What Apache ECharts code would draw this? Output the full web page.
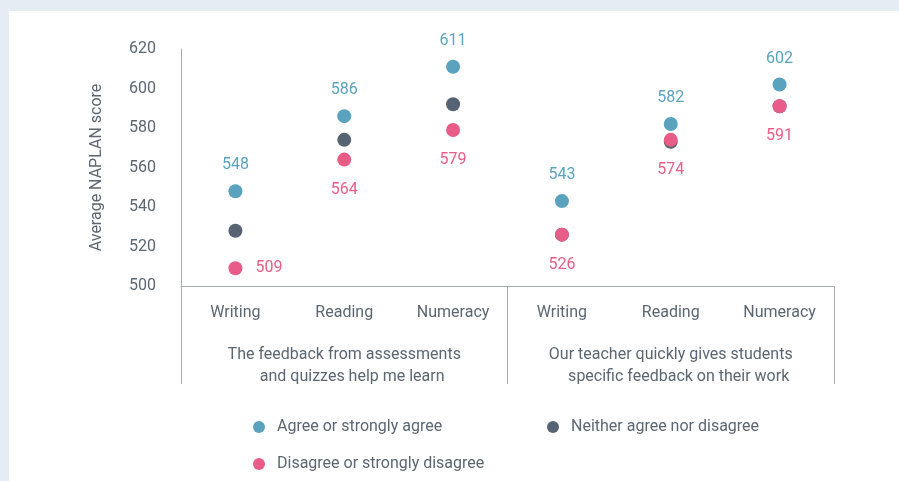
<!DOCTYPE html>
<html>
<head>
<meta charset="utf-8">
<title>Average NAPLAN score by feedback perception</title>
<script src="https://cdn.jsdelivr.net/npm/echarts@6/dist/echarts.min.js"></script>
<style>
  html, body { margin: 0; padding: 0; background: #e6ecf3; }
  #chart { width: 899px; height: 481px; }
</style>
</head>
<body>
<div id="chart"></div>
<script>
// subjects along the x axis, repeated for each survey statement
var subjects = ["Writing", "Reading", "Numeracy", "Writing", "Reading", "Numeracy"];
var statements = [
  "The feedback from assessments\n    and quizzes help me learn",
  "Our teacher quickly gives students\n    specific feedback on their work"
];
var seriesNames = ["Agree or strongly agree", "Neither agree nor disagree", "Disagree or strongly disagree"];
var agreeScores = [548, 586, 611, 543, 582, 602];
var neitherScores = [528, 574, 592, 526, 573, 591];
var disagreeScores = [509, 564, 579, 526, 574, 591];
var yTicks = [500, 520, 540, 560, 580, 600, 620];

var colors = {
  agree: "#5aa2bd",
  neither: "#556372",
  disagree: "#e95c88",
  text: "#5b6672",
  axis: "#a3abb3"
};
var fontFamily = "Roboto, 'Open Sans', sans-serif";

var chart = echarts.init(document.getElementById("chart"));

function legendAt(name, left, top) {
  return {
    data: [name],
    left: left,
    top: top,
    icon: "circle",
    itemWidth: 12,
    itemHeight: 12,
    selectedMode: false,
    padding: 0,
    textStyle: {
      color: colors.text,
      fontSize: 16,
      fontFamily: fontFamily,
      padding: [0, 0, 0, 7]
    }
  };
}

chart.setOption({
  backgroundColor: "#e6ecf3",
  textStyle: { fontFamily: fontFamily },
  graphic: [
    {
      type: "rect",
      z: -10,
      silent: true,
      shape: { x: 9, y: 11, width: 900, height: 480 },
      style: { fill: "#ffffff" }
    }
  ],
  legend: [
    legendAt(seriesNames[0], 253, 419),
    legendAt(seriesNames[1], 547, 419),
    legendAt(seriesNames[2], 253, 456)
  ],
  grid: {
    left: 181,
    right: 65,
    top: 49,
    bottom: 195
  },
  xAxis: [
    {
      type: "category",
      data: subjects,
      boundaryGap: true,
      axisLine: { lineStyle: { color: colors.axis, width: 1 } },
      axisTick: { show: false },
      axisLabel: {
        interval: 0,
        margin: 19,
        color: colors.text,
        fontSize: 16
      }
    },
    {
      type: "category",
      data: statements,
      position: "bottom",
      boundaryGap: true,
      axisLine: { show: false },
      axisTick: {
        show: true,
        length: 98,
        lineStyle: { color: colors.axis, width: 1 }
      },
      axisLabel: {
        interval: 0,
        margin: 58,
        lineHeight: 22,
        color: colors.text,
        fontSize: 16
      }
    }
  ],
  yAxis: {
    type: "value",
    min: yTicks[0],
    max: yTicks[yTicks.length - 1],
    interval: 20,
    name: "Average NAPLAN score",
    nameLocation: "middle",
    nameGap: 76,
    nameTextStyle: { color: colors.text, fontSize: 16 },
    axisLine: { show: true, lineStyle: { color: colors.axis, width: 1 } },
    axisTick: { show: false },
    splitLine: { show: false },
    axisLabel: { margin: 25, color: colors.text, fontSize: 16, padding: [4, 0, 0, 0] }
  },
  series: [
    {
      name: seriesNames[0],
      type: "scatter",
      data: agreeScores,
      symbolSize: 14,
      itemStyle: { color: colors.agree, opacity: 1 },
      label: {
        show: true,
        position: "top",
        distance: 11,
        color: colors.agree,
        fontSize: 16
      }
    },
    {
      name: seriesNames[1],
      type: "scatter",
      data: neitherScores,
      symbolSize: 14,
      itemStyle: { color: colors.neither, opacity: 1 }
    },
    {
      name: seriesNames[2],
      type: "scatter",
      data: disagreeScores.map(function (v, i) {
        // first point's label sits to the right of the dot
        if (i === 0) {
          return { value: v, label: { position: "right", distance: 13 } };
        }
        return v;
      }),
      symbolSize: 14,
      itemStyle: { color: colors.disagree, opacity: 1 },
      label: {
        show: true,
        position: "bottom",
        distance: 15,
        color: colors.disagree,
        fontSize: 16
      }
    }
  ]
});

window.addEventListener("resize", function () {
  chart.resize();
});
</script>
</body>
</html>
